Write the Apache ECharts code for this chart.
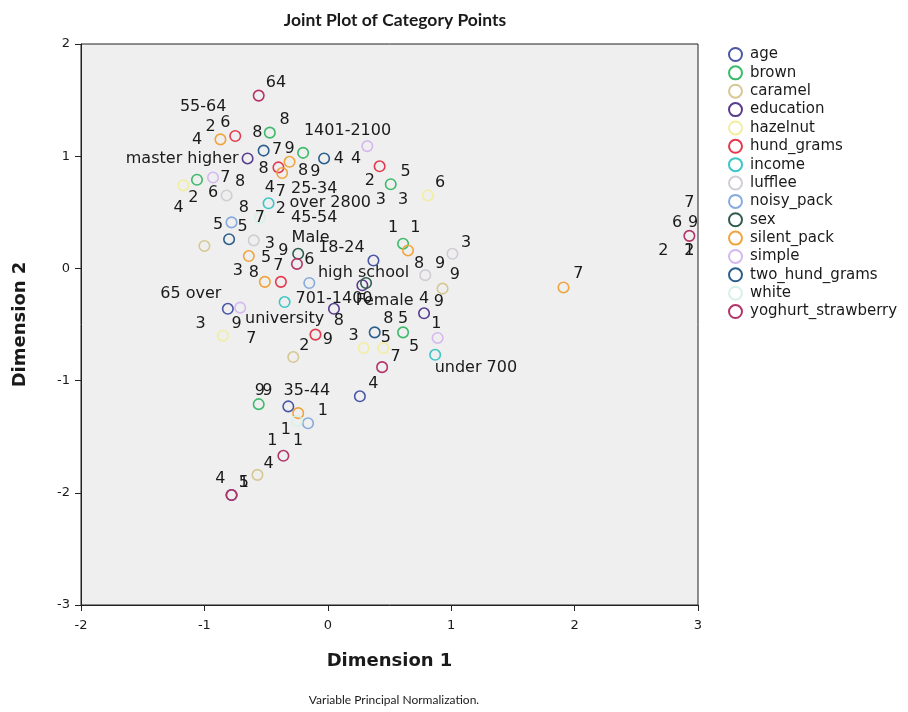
<!DOCTYPE html>
<html>
<head>
<meta charset="utf-8">
<script src="https://cdn.jsdelivr.net/npm/echarts@6/dist/echarts.min.js"></script>
<style>
html, body { margin: 0; padding: 0; background: #ffffff; }
#chart { width: 908px; height: 712px; }
</style>
</head>
<body>
<div id="chart"></div>
<script>
// category points per variable, [dim1, dim2]
const agePts = [[0.37, 0.07], [-0.32, -1.23], [-0.81, -0.36], [0.26, -1.14]]
const brownPts = [[-0.47, 1.21], [-1.06, 0.79], [-0.20, 1.03], [0.51, 0.75], [0.61, 0.22], [0.61, -0.57], [-0.56, -1.21]]
const caramelPts = [[-1.00, 0.20], [0.93, -0.18], [-0.28, -0.79], [-0.57, -1.84]]
const educationPts = [[-0.65, 0.98], [0.28, -0.15], [0.05, -0.36], [0.78, -0.40], [-0.78, -2.02]]
const hazelnutPts = [[-1.17, 0.74], [0.81, 0.65], [-0.85, -0.60], [0.29, -0.71], [0.45, -0.71]]
const hundGramsPts = [[-0.75, 1.18], [0.42, 0.91], [-0.40, 0.90], [-0.38, -0.12], [-0.10, -0.59]]
const incomePts = [[-0.35, -0.30], [0.87, -0.77], [-0.48, 0.58]]
const luffleePts = [[-0.60, 0.25], [-0.82, 0.65], [1.01, 0.13], [0.79, -0.06]]
const noisyPackPts = [[-0.78, 0.41], [-0.15, -0.13], [-0.16, -1.38]]
const sexPts = [[-0.24, 0.13], [0.31, -0.13]]
const silentPackPts = [[-0.87, 1.15], [-0.31, 0.95], [-0.37, 0.85], [-0.64, 0.11], [-0.51, -0.12], [0.65, 0.16], [1.91, -0.17], [-0.24, -1.29]]
const simplePts = [[-0.93, 0.81], [0.32, 1.09], [-0.71, -0.35], [0.89, -0.62]]
const twoHundGramsPts = [[-0.52, 1.05], [-0.03, 0.98], [-0.80, 0.26], [0.38, -0.57]]
const whitePts = [[-0.55, 0.45], [-0.25, -1.36]]
const yoghurtPts = [[-0.56, 1.54], [-0.25, 0.04], [0.44, -0.88], [-0.78, -2.02], [2.93, 0.29], [-0.36, -1.67]]

const variableNames = ['age', 'brown', 'caramel', 'education', 'hazelnut', 'hund_grams', 'income', 'lufflee',
  'noisy_pack', 'sex', 'silent_pack', 'simple', 'two_hund_grams', 'white', 'yoghurt_strawberry']
const variablePts = [agePts, brownPts, caramelPts, educationPts, hazelnutPts, hundGramsPts, incomePts, luffleePts,
  noisyPackPts, sexPts, silentPackPts, simplePts, twoHundGramsPts, whitePts, yoghurtPts]
const palette = ['#4a56a6', '#3dba6a', '#d6c894', '#5a3c8e', '#f2eea0', '#e23a4e', '#40c4c6', '#d2ccd4',
  '#86aadc', '#2e5c4c', '#f0a43e', '#d4b8ee', '#2c5e8c', '#d6f2e6', '#b23468']

// category labels, [dim1, dim2, text]
const categoryLabels = [
  [-0.42, 1.65, '64'], [-1.01, 1.44, '55-64'], [-0.95, 1.26, '2'], [-0.83, 1.30, '6'], [-1.06, 1.15, '4'],
  [-0.57, 1.21, '8'], [-0.35, 1.32, '8'], [0.16, 1.23, '1401-2100'], [-0.41, 1.06, '7'], [-0.31, 1.07, '9'],
  [0.09, 0.98, '4'], [0.23, 0.98, '4'], [-1.18, 0.98, 'master higher'], [-0.52, 0.89, '8'], [-0.20, 0.87, '8'],
  [-0.10, 0.86, '9'], [0.63, 0.86, '5'], [0.34, 0.78, '2'], [0.91, 0.76, '6'], [-0.83, 0.81, '7'],
  [-0.71, 0.77, '8'], [-1.09, 0.63, '2'], [-0.93, 0.67, '6'], [-1.21, 0.54, '4'], [-0.47, 0.72, '4'],
  [-0.38, 0.68, '7'], [-0.11, 0.71, '25-34'], [-0.68, 0.54, '8'], [-0.38, 0.53, '2'], [0.02, 0.58, 'over 2800'],
  [0.43, 0.61, '3'], [0.61, 0.61, '3'], [-0.89, 0.39, '5'], [-0.69, 0.37, '5'], [-0.55, 0.45, '7'],
  [-0.11, 0.45, '45-54'], [0.53, 0.36, '1'], [0.71, 0.36, '1'], [-0.47, 0.22, '3'], [-0.14, 0.27, 'Male'],
  [0.11, 0.18, '18-24'], [1.12, 0.23, '3'], [-0.36, 0.16, '9'], [-0.15, 0.08, '6'], [-0.50, 0.09, '5'],
  [-0.40, 0.02, '7'], [-0.73, -0.02, '3'], [-0.60, -0.04, '8'], [0.29, -0.04, 'high school'], [0.74, 0.04, '8'],
  [0.91, 0.04, '9'], [1.03, -0.06, '9'], [-1.11, -0.23, '65 over'], [0.05, -0.27, '701-1400'], [0.46, -0.29, 'Female'],
  [0.78, -0.27, '4'], [0.90, -0.30, '9'], [-1.03, -0.49, '3'], [-0.74, -0.49, '9'], [-0.35, -0.45, 'university'],
  [0.09, -0.47, '8'], [0.49, -0.45, '8'], [0.61, -0.45, '5'], [0.88, -0.49, '1'], [-0.62, -0.63, '7'],
  [-0.19, -0.69, '2'], [0.00, -0.64, '9'], [0.21, -0.60, '3'], [0.47, -0.62, '5'], [0.70, -0.70, '5'],
  [0.55, -0.79, '7'], [1.20, -0.89, 'under 700'], [0.37, -1.03, '4'], [-0.55, -1.09, '9'], [-0.49, -1.09, '9'],
  [-0.17, -1.09, '35-44'], [-0.04, -1.27, '1'], [-0.34, -1.44, '1'], [-0.45, -1.54, '1'], [-0.24, -1.54, '1'],
  [-0.48, -1.74, '4'], [-0.87, -1.88, '4'], [-0.68, -1.91, '5'], [-0.68, -1.91, '1'],
  [2.93, 0.58, '7'], [2.83, 0.41, '6'], [2.96, 0.41, '9'], [2.72, 0.16, '2'], [2.93, 0.16, '2'], [2.93, 0.16, '1'],
  [2.03, -0.05, '7']
]

const font = 'DejaVu Sans'
const chart = echarts.init(document.getElementById('chart'))

const series = variableNames.map(function (name, i) {
  return {
    name: name,
    type: 'scatter',
    symbol: 'circle',
    symbolSize: 10.5,
    data: variablePts[i],
    itemStyle: { color: 'rgba(0,0,0,0)', borderColor: palette[i], borderWidth: 1.6, opacity: 1 },
    emphasis: { disabled: true },
    z: 3
  }
})
series.push({
  name: 'labels',
  type: 'scatter',
  symbolSize: 1,
  silent: true,
  data: categoryLabels,
  itemStyle: { color: 'rgba(0,0,0,0)', opacity: 1 },
  label: {
    show: true,
    position: 'inside',
    color: '#1a1a1a',
    textBorderWidth: 0,
    fontFamily: font,
    fontSize: 16,
    formatter: function (p) { return p.data[2] }
  },
  z: 5
})

chart.setOption({
  animation: false,
  title: [
    {
      text: 'Joint Plot of Category Points',
      left: 390,
      top: 6,
      textAlign: 'center',
      textStyle: { fontFamily: 'Lato', fontSize: 17.5, fontWeight: 'bold', color: '#1a1a1a' }
    },
    {
      text: 'Variable Principal Normalization.',
      left: 389,
      top: 689,
      textAlign: 'center',
      textStyle: { fontFamily: 'Lato', fontSize: 12, fontWeight: 'normal', color: '#1a1a1a' }
    }
  ],
  legend: {
    data: variableNames,
    orient: 'vertical',
    left: 723,
    top: 42,
    itemWidth: 13,
    itemHeight: 13,
    itemGap: 3.36,
    icon: 'circle',
    textStyle: { fontFamily: font, fontSize: 15, lineHeight: 14, color: '#1a1a1a', padding: [0, 0, 0, 3] }
  },
  grid: {
    left: 81,
    right: 210,
    top: 44,
    bottom: 107,
    show: true,
    backgroundColor: '#efefef',
    borderColor: '#222',
    borderWidth: 1
  },
  xAxis: {
    type: 'value',
    min: -2,
    max: 3,
    interval: 1,
    name: 'Dimension 1',
    nameLocation: 'middle',
    nameGap: 47,
    nameTextStyle: { fontFamily: font, fontSize: 18, fontWeight: 'bold', color: '#1a1a1a' },
    axisLine: { show: true, onZero: false, lineStyle: { color: '#222' } },
    axisTick: { show: true, length: 6, lineStyle: { color: '#222' } },
    axisLabel: { fontFamily: font, fontSize: 13, color: '#1a1a1a', margin: 14 },
    splitLine: { show: false }
  },
  yAxis: {
    type: 'value',
    min: -3,
    max: 2,
    interval: 1,
    name: 'Dimension 2',
    nameLocation: 'middle',
    nameGap: 52,
    nameTextStyle: { fontFamily: font, fontSize: 18, fontWeight: 'bold', color: '#1a1a1a' },
    axisLine: { show: true, onZero: false, lineStyle: { color: '#222' } },
    axisTick: { show: true, length: 6, lineStyle: { color: '#222' } },
    axisLabel: { fontFamily: font, fontSize: 13, color: '#1a1a1a', margin: 11 },
    splitLine: { show: false }
  },
  series: series
})
</script>
</body>
</html>
